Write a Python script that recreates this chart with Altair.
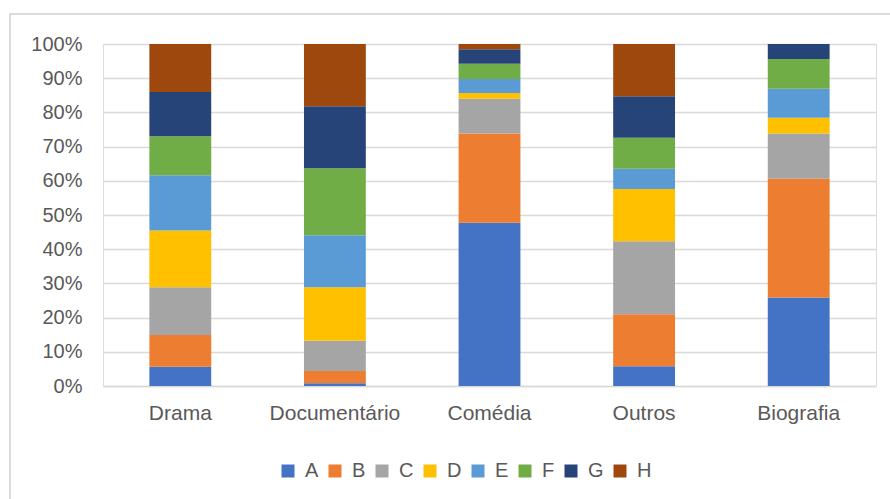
import altair as alt
import pandas as pd

categories = ["Drama", "Documentário", "Comédia", "Outros", "Biografia"]
series = ["A", "B", "C", "D", "E", "F", "G", "H"]
colors = ["#4472C4", "#ED7D31", "#A5A5A5", "#FFC000", "#5B9BD5", "#70AD47", "#264478", "#9E480E"]

drama = [5.6, 9.3, 14.0, 16.6, 16.1, 11.4, 13.0, 14.0]
documentario = [0.8, 3.6, 8.8, 15.7, 15.2, 19.6, 18.1, 18.2]
comedia = [47.7, 26.1, 10.2, 1.7, 4.1, 4.4, 4.3, 1.5]
outros = [5.8, 15.2, 21.3, 15.3, 5.9, 9.1, 12.1, 15.3]
biografia = [25.9, 34.7, 13.2, 4.6, 8.5, 8.7, 4.4, 0.0]

values = [drama, documentario, comedia, outros, biografia]
y_ticks = [0, 0.1, 0.2, 0.3, 0.4, 0.5, 0.6, 0.7, 0.8, 0.9, 1.0]

rows = []
for cat, vals in zip(categories, values):
    for i, (s, v) in enumerate(zip(series, vals)):
        rows.append({"cat": cat, "series": s, "idx": i, "value": v})
df = pd.DataFrame(rows)

FONT = "Liberation Sans"
LABEL = "#595959"

bars = alt.Chart(df).mark_bar().encode(
    x=alt.X("cat:N", sort=categories, title=None,
            scale=alt.Scale(paddingInner=0.6, paddingOuter=0.3),
            axis=alt.Axis(labelAngle=0, labelFontSize=21, labelColor=LABEL, labelFont=FONT,
                          labelPadding=16, ticks=False, domainColor="#d9d9d9", domainWidth=1.5)),
    y=alt.Y("value:Q", stack="normalize", title=None,
            scale=alt.Scale(domain=[0, 1], nice=False),
            axis=alt.Axis(values=y_ticks, format=".0%", labelFontSize=20, labelColor=LABEL,
                          labelFont=FONT, labelPadding=21, ticks=False, domain=False,
                          gridColor="#d9d9d9", gridWidth=1.5)),
    color=alt.Color("series:N", sort=series, title=None,
                    scale=alt.Scale(domain=series, range=colors),
                    legend=alt.Legend(orient="none", legendX=175, legendY=417, direction="horizontal",
                                      symbolType="square", symbolSize=169, symbolStrokeWidth=0,
                                      labelFontSize=20, labelColor=LABEL, labelFont=FONT,
                                      labelOffset=7, columnPadding=6)),
    order=alt.Order("idx:Q", sort="ascending"),
)

frame = alt.Chart(pd.DataFrame({"d": [0]})).mark_rect(
    fill=None, stroke="#d0d0d0", strokeWidth=1.5
).encode(
    x=alt.value(-93), x2=alt.value(800), y=alt.value(-30), y2=alt.value(470)
)

chart = alt.layer(frame, bars).properties(
    width=773, height=342,
    autosize=alt.AutoSizeParams(type="none"),
    padding={"left": 103, "top": 44, "right": 14, "bottom": 113},
).configure_view(stroke=None).configure(background="white")

chart.save("out.html", embed_options={"renderer": "svg", "actions": False})
